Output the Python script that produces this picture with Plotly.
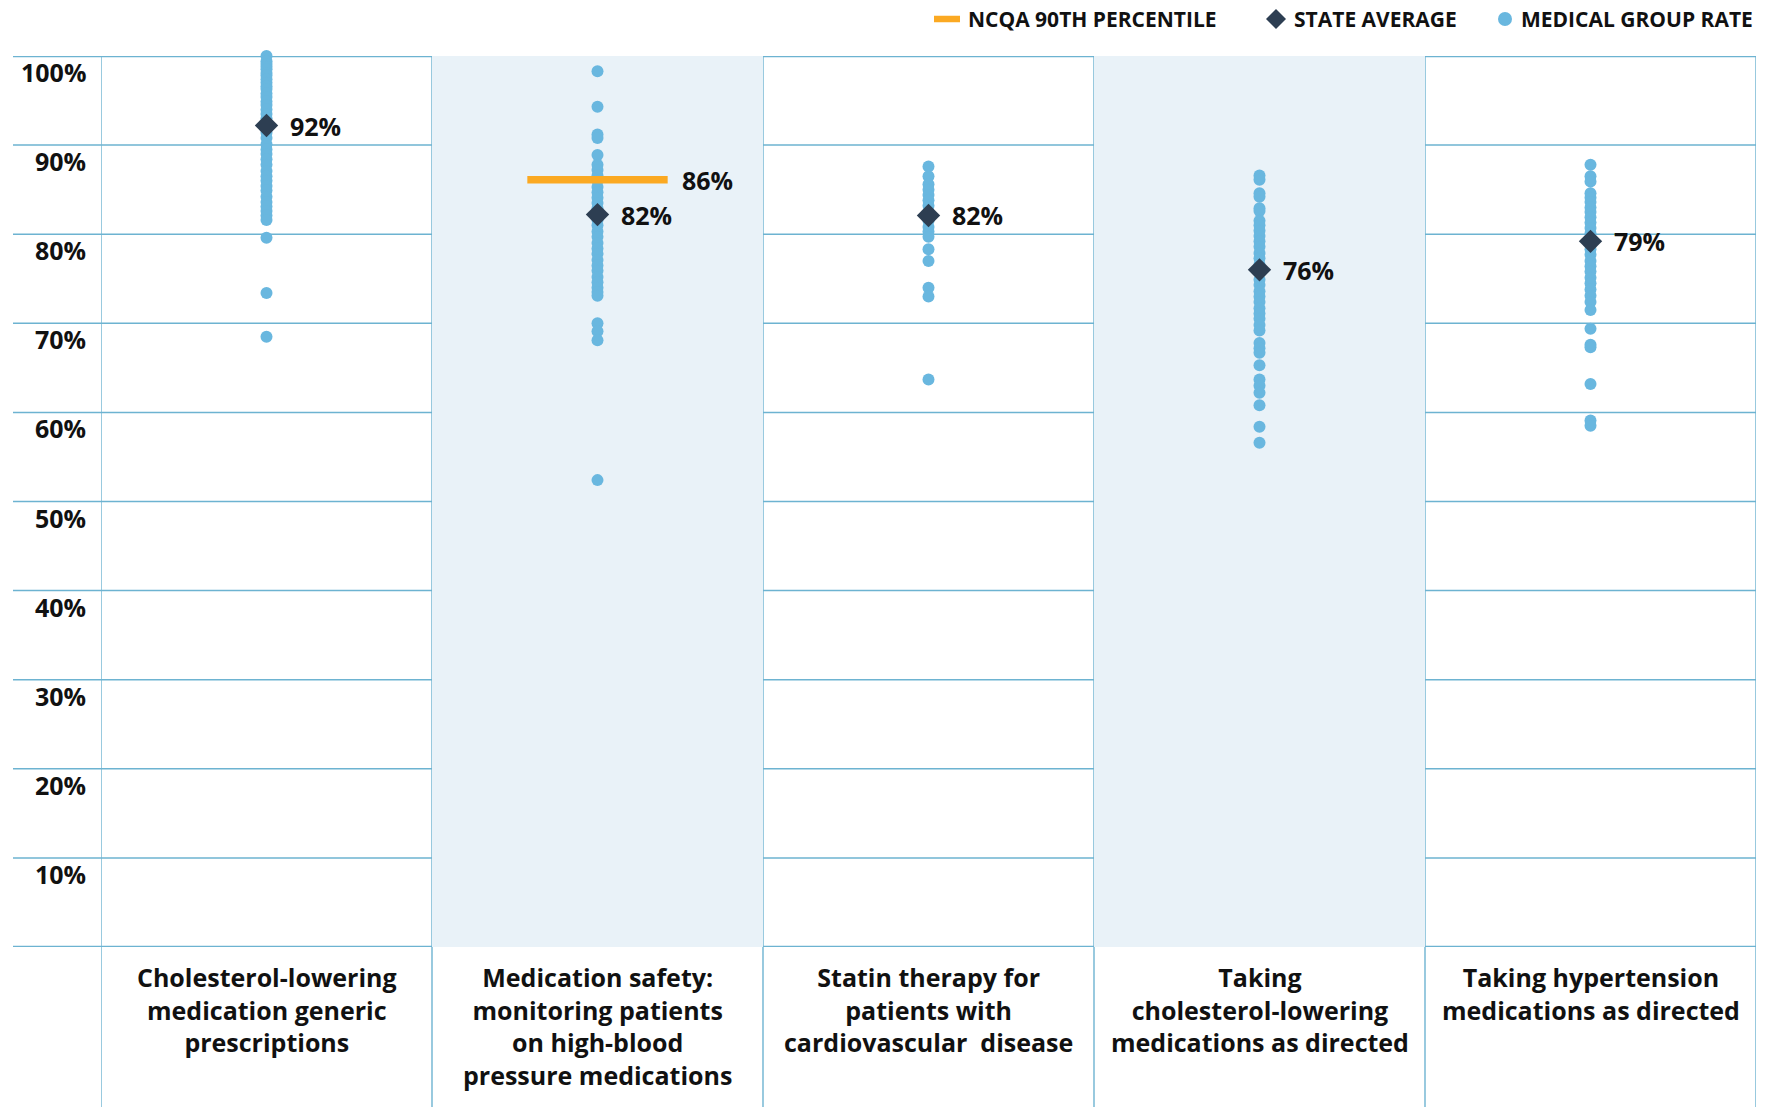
import plotly.graph_objects as go

# ---------------- data ----------------
categories = [
    "Cholesterol-lowering<br>medication generic<br>prescriptions",
    "Medication safety:<br>monitoring patients<br>on high-blood<br>pressure medications",
    "Statin therapy for<br>patients with<br>cardiovascular  disease",
    "Taking<br>cholesterol-lowering<br>medications as directed",
    "Taking hypertension<br>medications as directed",
]

group_rates_1 = [100, 99.4, 99.1, 98.8, 98.5, 98.1, 97.8, 97.4, 97.0, 96.6, 96.3, 95.8, 95.4,
                 94.9, 94.5, 94.0, 93.5, 93.0, 92.5, 91.9, 91.4, 90.8, 90.1, 89.5, 89.0,
                 88.4, 87.8, 87.1, 86.5, 86.0, 85.4, 84.9, 84.2, 83.6, 83.1, 82.6, 82.1,
                 81.6, 79.6, 73.4, 68.5]
group_rates_2 = [98.3, 94.3, 91.2, 90.8, 88.9, 87.8, 87.2, 86.6, 86.0, 85.3, 84.7, 84.1,
                 83.5, 82.9, 82.2, 81.6, 81.0, 80.3, 79.7, 79.0, 78.4, 77.8, 77.1, 76.5,
                 75.9, 75.2, 74.6, 74.0, 73.5, 73.1, 70.0, 69.1, 68.1, 52.4]
group_rates_3 = [87.6, 86.5, 85.6, 85.0, 84.4, 83.8, 83.2, 82.5, 81.5, 80.8, 80.3, 79.7,
                 78.3, 77.0, 74.0, 73.0, 63.7]
group_rates_4 = [86.6, 86.1, 84.6, 84.2, 82.9, 82.6, 81.5, 81.0, 80.4, 79.8, 79.2, 78.6,
                 77.9, 77.3, 76.6, 74.9, 74.3, 73.6, 73.0, 72.4, 71.7, 71.1, 70.5, 69.8,
                 69.2, 67.8, 67.2, 66.7, 65.3, 63.7, 63.0, 62.2, 60.8, 58.4, 56.6]
group_rates_5 = [87.8, 86.5, 85.9, 84.6, 84.1, 83.6, 83.0, 82.5, 81.9, 81.3, 80.7, 80.1,
                 79.5, 78.9, 78.3, 77.7, 77.0, 76.4, 75.8, 75.1, 74.5, 73.8, 73.1, 72.4,
                 71.5, 69.4, 67.6, 67.3, 63.2, 59.1, 58.5]
group_rates = [group_rates_1, group_rates_2, group_rates_3, group_rates_4, group_rates_5]

state_average = [92.2, 82.2, 82.1, 76.0, 79.2]
state_labels = ["92%", "82%", "82%", "76%", "79%"]

ncqa_category = 1
ncqa_value = 86.1
ncqa_label = "86%"

y_tick_values = [100, 90, 80, 70, 60, 50, 40, 30, 20, 10]
y_tick_labels = ["100%", "90%", "80%", "70%", "60%", "50%", "40%", "30%", "20%", "10%"]

legend_labels = ["NCQA 90TH PERCENTILE", "STATE AVERAGE", "MEDICAL GROUP RATE"]

# ---------------- style ----------------
W, H = 1775, 1107
ML, MR, MT, MB = 101, 19, 56, 160
PW, PH = W - ML - MR, H - MT - MB

DOT = "#69B7DF"
DIAMOND = "#2D3E52"
ORANGE = "#FBA922"
GRID = "#6DB3D1"
SHADE = "#E9F2F8"
FONT = "Open Sans"
TXT = "#111111"


def px_x(p):
    return (p - ML) / PW


def px_y(p):
    return (H - MB - p) / PH


fig = go.Figure()

# medical group dots
for i, vals in enumerate(group_rates):
    fig.add_trace(go.Scatter(
        x=[i] * len(vals), y=vals, mode="markers",
        marker=dict(color=DOT, size=12, line=dict(width=0)),
        hoverinfo="y", showlegend=False, cliponaxis=False,
    ))

# NCQA line
half = 0.212
fig.add_trace(go.Scatter(
    x=[ncqa_category - half, ncqa_category + half], y=[ncqa_value, ncqa_value],
    mode="lines", line=dict(color=ORANGE, width=7.5), showlegend=False, hoverinfo="skip",
))

# state averages
fig.add_trace(go.Scatter(
    x=list(range(len(state_average))), y=state_average, mode="markers",
    marker=dict(symbol="diamond", color=DIAMOND, size=18, line=dict(width=0)),
    showlegend=False, cliponaxis=False,
))

shapes = []
# shaded columns
for i in range(len(categories)):
    if i % 2 == 1:
        shapes.append(dict(type="rect", xref="x", yref="y", x0=i - 0.5, x1=i + 0.5,
                           y0=0, y1=100, fillcolor=SHADE, line=dict(width=0), layer="below"))
# horizontal grid lines
for v in y_tick_values[1:]:
    shapes.append(dict(type="line", xref="paper", yref="y", x0=px_x(13), x1=1, y0=v, y1=v,
                       line=dict(color=GRID, width=1.5), layer="below"))
for v in [0, 100]:
    shapes.append(dict(type="line", xref="paper", yref="y", x0=px_x(13), x1=1, y0=v, y1=v,
                       line=dict(color=GRID, width=2.6), layer="below"))
# vertical separators
for k in range(len(categories) + 1):
    shapes.append(dict(type="line", xref="x", yref="paper", x0=k - 0.5, x1=k - 0.5,
                       y0=px_y(H), y1=1, line=dict(color=GRID, width=1.4), layer="below"))

annotations = []
# y tick labels
for v, t in zip(y_tick_values, y_tick_labels):
    annotations.append(dict(x=0, xref="paper", y=v, yref="y", text=f"<b>{t}</b>",
                            xanchor="right", yanchor="middle", xshift=-13, yshift=-16,
                            showarrow=False, font=dict(family=FONT, size=25, color=TXT)))
# category labels
for i, c in enumerate(categories):
    annotations.append(dict(x=i, xref="x", y=px_y(958), yref="paper", text=f"<b>{c}</b>",
                            xanchor="center", yanchor="top", showarrow=False, align="center",
                            font=dict(family=FONT, size=25, color=TXT)))
# state average labels
for i, (v, t) in enumerate(zip(state_average, state_labels)):
    annotations.append(dict(x=i, xref="x", y=v, yref="y", text=f"<b>{t}</b>",
                            xanchor="left", yanchor="middle", xshift=21, showarrow=False,
                            font=dict(family=FONT, size=25, color=TXT)))
# NCQA label
annotations.append(dict(x=ncqa_category + half, xref="x", y=ncqa_value, yref="y",
                        text=f"<b>{ncqa_label}</b>", xanchor="left", yanchor="middle",
                        xshift=12, showarrow=False, font=dict(family=FONT, size=25, color=TXT)))

# legend (manual)
leg_y = px_y(19)
shapes.append(dict(type="line", xref="paper", yref="paper", x0=px_x(934), x1=px_x(960),
                   y0=leg_y, y1=leg_y, line=dict(color=ORANGE, width=6.5)))
shapes.append(dict(type="path", xref="paper", yref="paper", xsizemode="pixel", ysizemode="pixel",
                   xanchor=px_x(1276), yanchor=leg_y, path="M -10 0 L 0 10 L 10 0 L 0 -10 Z",
                   fillcolor=DIAMOND, line=dict(width=0)))
shapes.append(dict(type="circle", xref="paper", yref="paper", xsizemode="pixel", ysizemode="pixel",
                   xanchor=px_x(1505), yanchor=leg_y, x0=-7, x1=7, y0=-7, y1=7,
                   fillcolor=DOT, line=dict(width=0)))
for xpx, t in zip([966, 1292, 1519], legend_labels):
    annotations.append(dict(x=px_x(xpx), xref="paper", y=leg_y, yref="paper", text=f"<b>{t}</b>",
                            xanchor="left", yanchor="middle", showarrow=False,
                            font=dict(family=FONT, size=21, color=TXT)))

fig.update_layout(
    width=W, height=H,
    margin=dict(l=ML, r=MR, t=MT, b=MB, pad=0),
    paper_bgcolor="white", plot_bgcolor="rgba(0,0,0,0)",
    showlegend=False,
    xaxis=dict(range=[-0.5, len(categories) - 0.5], showgrid=False, zeroline=False,
               showticklabels=False, showline=False, fixedrange=True),
    yaxis=dict(range=[0, 100], showgrid=False, zeroline=False, showticklabels=False,
               showline=False, fixedrange=True),
    shapes=shapes, annotations=annotations,
    font=dict(family=FONT, color=TXT),
)

fig.write_html("out.html")
